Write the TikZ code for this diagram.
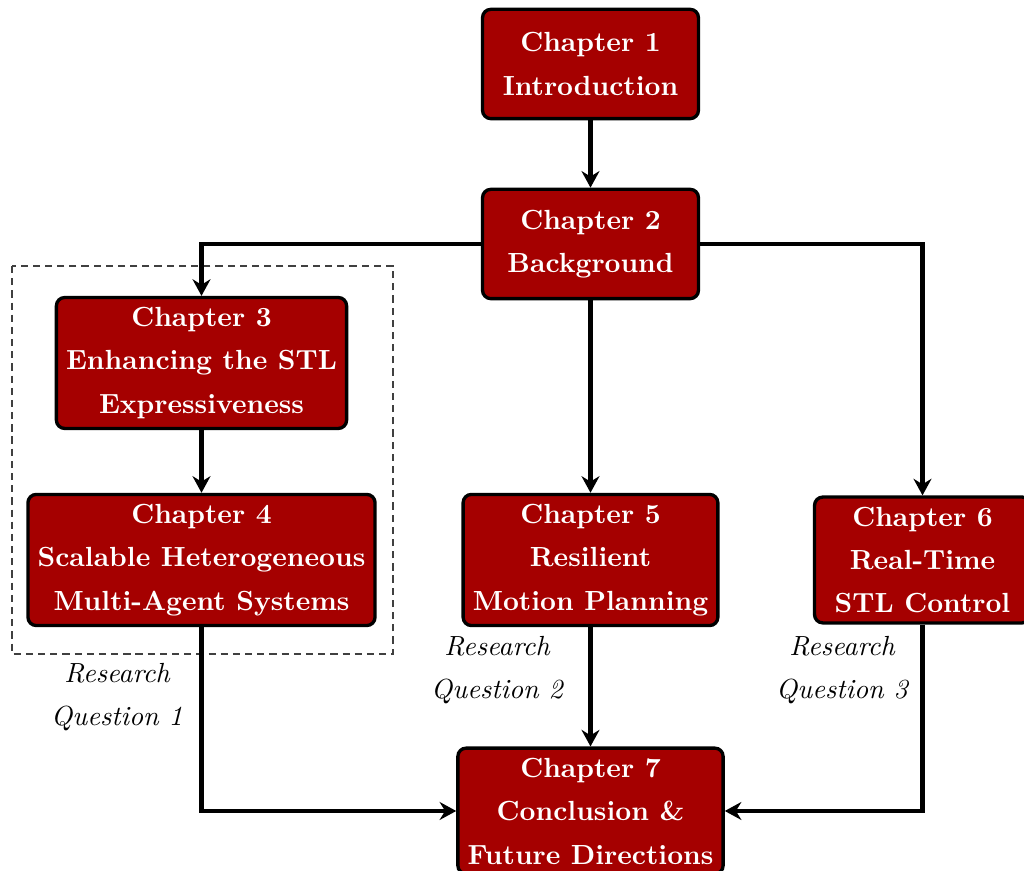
\documentclass[tikz,border=0pt]{standalone}
\usetikzlibrary{arrows.meta}
\definecolor{chapred}{RGB}{165,0,0}
\begin{document}
\begin{tikzpicture}[x=0.3613pt, y=-0.3613pt,
  chapbox/.style={draw=black, line width=1.2pt, fill=chapred, rounded corners=3pt,
    text=white, align=center, font=\bfseries\fontsize{10pt}{15.7pt}\selectfont,
    inner sep=3.5pt, minimum width=78pt, minimum height=39.5pt},
  flow/.style={line width=1.7pt, -{Stealth[length=6pt,width=6.5pt,inset=2pt]}},
  rqlabel/.style={align=center, font=\itshape\fontsize{10pt}{15.7pt}\selectfont},
  groupbox/.style={draw=black!75, line width=0.4pt, dash pattern=on 2.6pt off 1.8pt}]
\useasboundingbox (0,0) rectangle (1024,871);
\clip (0,0) rectangle (1024,871);

% dashed frame around chapters 3 and 4
\draw[groupbox] (12,266) rectangle (393,654);

% chapters
\node[chapbox] (c1) at (590.5,64)  {Chapter 1\\Introduction};
\node[chapbox] (c2) at (590.5,244) {Chapter 2\\Background};
\node[chapbox] (c3) at (201.5,363) {Chapter 3\\Enhancing the STL\\Expressiveness};
\node[chapbox] (c4) at (201.5,560) {Chapter 4\\Scalable Heterogeneous\\Multi-Agent Systems};
\node[chapbox] (c5) at (590.5,560) {Chapter 5\\Resilient\\Motion Planning};
\node[chapbox] (c6) at (922.5,560) {Chapter 6\\Real-Time\\STL Control};
\node[chapbox] (c7) at (590.5,811) {Chapter 7\\Conclusion \&\\Future Directions};

% research question labels
\node[rqlabel] (rq1) at (117,697) {Research\\Question 1};
\node[rqlabel] (rq2) at (497,670) {Research\\Question 2};
\node[rqlabel] (rq3) at (842,670) {Research\\Question 3};

% flow between chapters
\draw[flow] (c1) -- (c2);
\draw[flow] (c2.west) -| (c3.north);
\draw[flow] (c2.east) -| (c6.north);
\draw[flow] (c2) -- (c5);
\draw[flow] (c3) -- (c4);
\draw[flow] (c4.south) |- (c7.west);
\draw[flow] (c5) -- (c7);
\draw[flow] (c6.south) |- (c7.east);
\end{tikzpicture}
\end{document}
